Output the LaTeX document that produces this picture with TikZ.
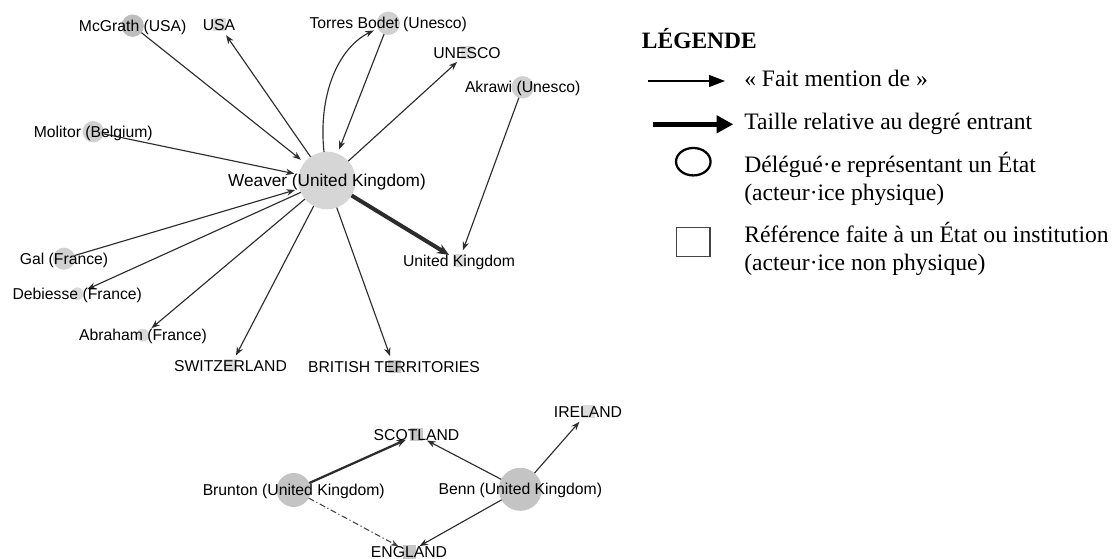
\documentclass[tikz,border=0pt]{standalone}
\usepackage{fontspec}
\setmainfont{Liberation Serif}
\setsansfont{Liberation Sans}
\usetikzlibrary{arrows.meta,shapes.geometric}
\definecolor{edgec}{HTML}{2C2C2C}
\definecolor{dashc}{HTML}{444444}
\definecolor{nweaver}{HTML}{D6D6D6}
\definecolor{nmid}{HTML}{D0D0D0}
\definecolor{nlight}{HTML}{DADADA}
\definecolor{ndark}{HTML}{BDBDBD}
\definecolor{nbenn}{HTML}{C4C4C4}
\definecolor{sqlight}{HTML}{DCDCDC}
\definecolor{sqdark}{HTML}{C6C6C6}
\definecolor{sqborder}{HTML}{444444}
\tikzset{
  actor/.style={circle, inner sep=0pt, outer sep=0pt, draw=none},
  refnode/.style={rectangle, inner sep=0pt, outer sep=0pt, minimum width=9.75pt, minimum height=9.75pt, draw=none},
  lbl/.style={font=\sffamily\fontsize{11.8}{14}\selectfont, inner sep=0pt, text height=8.45pt, text depth=0pt, anchor=center},
  lblbig/.style={font=\sffamily\fontsize{12.9}{15}\selectfont, inner sep=0pt, text height=9.24pt, text depth=0pt, anchor=center},
  edge/.style={draw=edgec, line width=0.85pt, -{Stealth[length=6.4pt,width=4.8pt]}, shorten >=3.4pt},
  thickedge/.style={draw=edgec, line width=3pt, -{Stealth[length=9pt,width=7.5pt]}, shorten >=3pt},
  midedge/.style={draw=edgec, line width=1.7pt, -{Stealth[length=6.75pt,width=5.25pt]}, shorten >=3.4pt},
  dashdotedge/.style={draw=dashc, line width=0.8pt, dash pattern=on 4.5pt off 2pt on 0.9pt off 2pt, -{Stealth[length=6pt,width=4.5pt]}, shorten >=3.4pt},
  legtxt/.style={font=\fontsize{17.7}{21}\selectfont, anchor=base west, inner sep=0pt},
}
\begin{document}
\begin{tikzpicture}[x=0.75pt,y=-0.75pt]
\fill[white] (0,0) rectangle (1118,559);
\useasboundingbox (0,0) rectangle (1118,559);

% ---- actor nodes (circles) ----
\node[actor, fill=nweaver, minimum size=43.2pt] (weaver) at (327,180.5) {};
\node[actor, fill=ndark, minimum size=16.8pt] (mcgrath) at (132.7,25.7) {};
\node[actor, fill=nmid, minimum size=17.5pt] (torres) at (388.3,23.3) {};
\node[actor, fill=nmid, minimum size=16.8pt] (akrawi) at (522.7,87.3) {};
\node[actor, fill=nmid, minimum size=16pt] (molitor) at (93.3,131.7) {};
\node[actor, fill=nmid, minimum size=16.5pt] (gal) at (64,258.7) {};
\node[actor, fill=nlight, minimum size=9.4pt] (debiesse) at (77.3,293.7) {};
\node[actor, fill=nlight, minimum size=9.75pt] (abraham) at (143,335.3) {};
\node[actor, fill=nbenn, minimum size=25.5pt] (brunton) at (293.7,490) {};
\node[actor, fill=nbenn, minimum size=32.25pt] (benn) at (520.3,489.3) {};

% ---- reference nodes (squares) ----
\node[refnode, fill=sqlight] (usa) at (219,25) {};
\node[refnode, fill=sqlight] (unesco) at (467,53) {};
\node[refnode, fill=sqlight] (ukc) at (459,261) {};
\node[refnode, fill=sqlight] (switz) at (230.5,366) {};
\node[refnode, fill=sqdark] (brit) at (394,367) {};
\node[refnode, fill=sqdark] (scotland) at (416.5,435) {};
\node[refnode, fill=sqlight] (ireland) at (588,412) {};
\node[refnode, fill=sqdark] (england) at (409,552) {};

% ---- connectors ----
\draw[edge] (mcgrath) -- (weaver);
\draw[edge] (weaver) -- (usa);
\draw[edge] (weaver) .. controls (318,95) and (338,48) .. (torres);
\draw[edge] (torres) -- (weaver);
\draw[edge] (weaver) -- (unesco);
\draw[edge] (akrawi) -- (ukc);
\draw[edge] (molitor) -- (weaver);
\draw[edge] (gal) -- (weaver);
\draw[edge] (weaver) -- (debiesse);
\draw[edge] (weaver) -- (abraham);
\draw[edge] (weaver) -- (switz);
\draw[edge] (weaver) -- (brit);
\draw[thickedge] (weaver) -- (ukc);
\draw[midedge] (brunton) -- (scotland);
\draw[edge] (benn) -- (scotland);
\draw[edge] (benn) -- (ireland);
\draw[edge] (benn) -- (england);
\draw[dashdotedge] (brunton) -- (england);

% ---- labels ----
\node[lblbig] (weaverL) at (weaver) {Weaver (United Kingdom)};
\node[lbl] (mcgrathL) at (mcgrath) {McGrath (USA)};
\node[lbl] (torresL) at (torres) {Torres Bodet (Unesco)};
\node[lbl] (akrawiL) at (akrawi) {Akrawi (Unesco)};
\node[lbl] (molitorL) at (molitor) {Molitor (Belgium)};
\node[lbl] (galL) at (gal) {Gal (France)};
\node[lbl] (debiesseL) at (debiesse) {Debiesse (France)};
\node[lbl] (abrahamL) at (abraham) {Abraham (France)};
\node[lbl] (bruntonL) at (brunton) {Brunton (United Kingdom)};
\node[lbl] (bennL) at (benn) {Benn (United Kingdom)};
\node[lbl] (usaL) at (usa) {USA};
\node[lbl] (unescoL) at (unesco) {UNESCO};
\node[lbl] (ukcL) at (ukc) {United Kingdom};
\node[lbl] (switzL) at (switz) {SWITZERLAND};
\node[lbl] (britL) at (brit) {BRITISH TERRITORIES};
\node[lbl] (scotlandL) at (scotland) {SCOTLAND};
\node[lbl] (irelandL) at (ireland) {IRELAND};
\node[lbl] (englandL) at (england) {ENGLAND};

% ---- legend ----
\node[legtxt, font=\bfseries\fontsize{17.6}{21}\selectfont] (legtitle) at (641.7,48.3) {LÉGENDE};
\coordinate (la1) at (648.3,81);
\coordinate (la2) at (725,81);
\draw[draw=black, line width=0.9pt, -{Triangle[length=12pt,width=9pt]}] (la1) -- (la2);
\node[legtxt] (legt1) at (744,86.7) {« Fait mention de »};
\coordinate (lb1) at (653.3,124.3);
\coordinate (lb2) at (733.3,124.3);
\draw[draw=black, line width=4.1pt, -{Triangle[length=12.5pt,width=12.75pt]}] (lb1) -- (lb2);
\node[legtxt] (legt2) at (744,130) {Taille relative au degré entrant};
\node[ellipse, draw=black, line width=1.7pt, inner sep=0pt, minimum width=25.9pt, minimum height=20.6pt] (legcirc) at (693.3,161.7) {};
\node[legtxt] (legt3a) at (744,173) {Délégué·e représentant un État};
\node[legtxt] (legt3b) at (744,200.5) {(acteur·ice physique)};
\node[rectangle, draw=sqborder, line width=0.98pt, inner sep=0pt, minimum width=25.1pt, minimum height=21.75pt] (legsq) at (693.3,241.7) {};
\node[legtxt] (legt4a) at (744,242.7) {Référence faite à un État ou institution};
\node[legtxt] (legt4b) at (744,270.7) {(acteur·ice non physique)};
\end{tikzpicture}
\end{document}
